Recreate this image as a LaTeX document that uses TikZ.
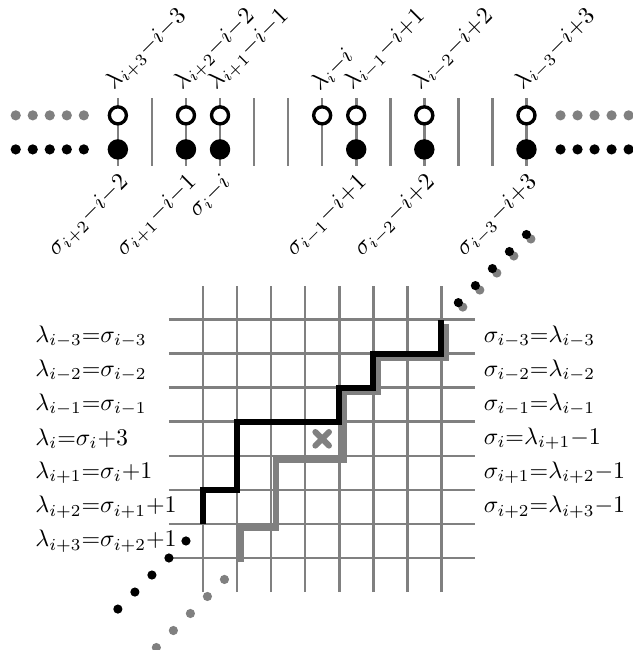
\documentclass[tikz,border=0pt]{standalone}
\usetikzlibrary{calc}
\begin{document}
\begin{tikzpicture}[x=0.5cm,y=0.5cm,
  gridline/.style={gray,line width=1.1pt},
  tickline/.style={gray,line width=1.1pt},
  openpt/.style={circle,draw=black,fill=white,line width=1.4pt,inner sep=0pt,minimum size=0.25cm},
  fullpt/.style={circle,fill=black,inner sep=0pt,minimum size=0.3cm},
  rowdot/.style={circle,inner sep=0pt,minimum size=0.15cm},
  diagdot/.style={circle,inner sep=0pt,minimum size=0.135cm},
  toplab/.style={rotate=45,anchor=south west,inner sep=1pt},
  botlab/.style={rotate=45,anchor=north east,inner sep=1.5pt},
  leftlab/.style={anchor=west},
  rightlab/.style={anchor=west},
  blackpath/.style={black,line width=2.5pt},
  graypath/.style={gray,line width=2.5pt},
]
\useasboundingbox (-5.962,-2.702) rectangle (12.601,16.388);

% ---------- top particle picture ----------
\foreach \x [count=\k] in {-2.5,-1.5,...,9.5} {
  \coordinate (t\k) at (\x,13.5);
  \coordinate (b\k) at (\x,11.5);
  \draw[tickline] (t\k) -- (b\k);
}
\foreach \k in {1,3,4,7,8,10,13} \node[openpt] (o\k) at ($(t\k)!0.25!(b\k)$) {};
\foreach \k in {1,3,4,8,10,13} \node[fullpt] (f\k) at ($(t\k)!0.75!(b\k)$) {};

\foreach \x [count=\n] in {-5.5,-5,...,-3.5} {
  \node[rowdot,fill=gray] (lg\n) at (\x,13) {};
  \node[rowdot,fill=black] (lb\n) at (\x,12) {};
}
\foreach \x [count=\n] in {10.5,11,...,12.5} {
  \node[rowdot,fill=gray] (rg\n) at (\x,13) {};
  \node[rowdot,fill=black] (rb\n) at (\x,12) {};
}

\node[toplab] (la1) at (t1) {$\lambda_{i+3}{-}i{-}3$};
\node[toplab] (la3) at (t3) {$\lambda_{i+2}{-}i{-}2$};
\node[toplab] (la4) at (t4) {$\lambda_{i+1}{-}i{-}1$};
\node[toplab] (la7) at (t7) {$\lambda_{i}{-}i$};
\node[toplab] (la8) at (t8) {$\lambda_{i-1}{-}i{+}1$};
\node[toplab] (la10) at (t10) {$\lambda_{i-2}{-}i{+}2$};
\node[toplab] (la13) at (t13) {$\lambda_{i-3}{-}i{+}3$};

\node[botlab] (sb1) at (b1) {$\sigma_{i+2}{-}i{-}2$};
\node[botlab] (sb3) at (b3) {$\sigma_{i+1}{-}i{-}1$};
\node[botlab] (sb4) at (b4) {$\sigma_{i}{-}i$};
\node[botlab] (sb8) at (b8) {$\sigma_{i-1}{-}i{+}1$};
\node[botlab] (sb10) at (b10) {$\sigma_{i-2}{-}i{+}2$};
\node[botlab] (sb13) at (b13) {$\sigma_{i-3}{-}i{+}3$};

% ---------- grid ----------
\foreach \c in {0,...,7} \draw[gridline] (\c,-1) -- (\c,8);
\foreach \r in {0,...,7} \draw[gridline] (-1,\r) -- (8,\r);

% gray path (shifted) and dots
\begin{scope}[shift={(0.13,-0.13)}]
  \draw[graypath] (1,0) -- (1,1) -- (2,1) -- (2,3) -- (4,3) -- (4,5) -- (5,5) -- (5,6) -- (7,6) -- (7,7);
  \foreach \s [count=\n] in {0,0.5,...,2} {
    \node[diagdot,fill=gray] (gu\n) at (7.5+\s,7.5+\s) {};
    \node[diagdot,fill=gray] (gd\n) at (0.5-\s,-0.5-\s) {};
  }
\end{scope}

% black path and dots
\draw[blackpath] (0,1) -- (0,2) -- (1,2) -- (1,4) -- (4,4) -- (4,5) -- (5,5) -- (5,6) -- (7,6) -- (7,7);
\foreach \s [count=\n] in {0,0.5,...,2} {
  \node[diagdot,fill=black] (bu\n) at (7.5+\s,7.5+\s) {};
  \node[diagdot,fill=black] (bd\n) at (-0.5-\s,0.5-\s) {};
}

% cross
\draw[gray,line width=2.5pt,line cap=round] (3.3,3.3) -- (3.7,3.7) (3.3,3.7) -- (3.7,3.3);

% ---------- side labels ----------
\node[leftlab] (l1) at (-5.17,6.5) {$\lambda_{i-3}{=}\sigma_{i-3}$};
\node[leftlab] (l2) at (-5.17,5.5) {$\lambda_{i-2}{=}\sigma_{i-2}$};
\node[leftlab] (l3) at (-5.17,4.5) {$\lambda_{i-1}{=}\sigma_{i-1}$};
\node[leftlab] (l4) at (-5.17,3.5) {$\lambda_{i}{=}\sigma_{i}{+}3$};
\node[leftlab] (l5) at (-5.17,2.5) {$\lambda_{i+1}{=}\sigma_{i}{+}1$};
\node[leftlab] (l6) at (-5.17,1.5) {$\lambda_{i+2}{=}\sigma_{i+1}{+}1$};
\node[leftlab] (l7) at (-5.17,0.5) {$\lambda_{i+3}{=}\sigma_{i+2}{+}1$};

\node[rightlab] (r1) at (8,6.5) {$\sigma_{i-3}{=}\lambda_{i-3}$};
\node[rightlab] (r2) at (8,5.5) {$\sigma_{i-2}{=}\lambda_{i-2}$};
\node[rightlab] (r3) at (8,4.5) {$\sigma_{i-1}{=}\lambda_{i-1}$};
\node[rightlab] (r4) at (8,3.5) {$\sigma_{i}{=}\lambda_{i+1}{-}1$};
\node[rightlab] (r5) at (8,2.5) {$\sigma_{i+1}{=}\lambda_{i+2}{-}1$};
\node[rightlab] (r6) at (8,1.5) {$\sigma_{i+2}{=}\lambda_{i+3}{-}1$};
\end{tikzpicture}
\end{document}
